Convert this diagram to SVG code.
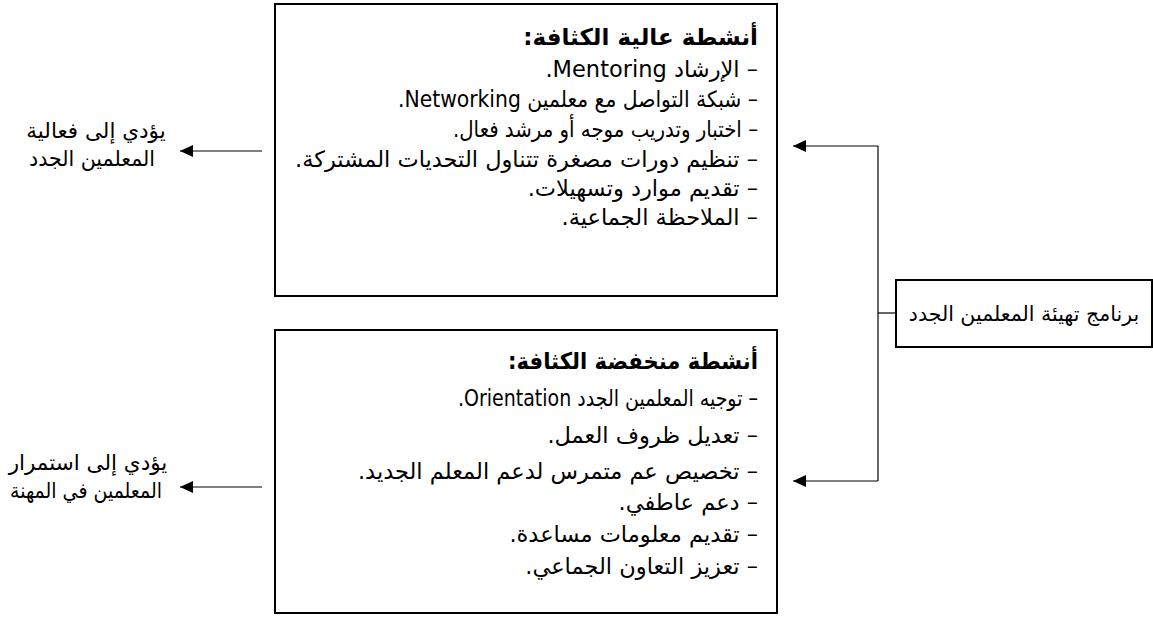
<svg xmlns="http://www.w3.org/2000/svg" width="1153" height="626" viewBox="0 0 1153 626">
<defs>
<style>
.box{fill:#fff;stroke:#000;stroke-width:2}
.t{font-family:"DejaVu Sans",sans-serif;font-size:22.5px;fill:#000}
.r{direction:rtl;unicode-bidi:embed;text-anchor:start}
.c{text-anchor:middle}
.b{font-weight:bold;font-size:23px}
.s{font-size:21.5px}
.p{font-size:20.5px}
.ln{fill:none;stroke:#000;stroke-width:1.2}
</style>
<marker id="ah" viewBox="0 0 13 12" refX="13" refY="6" markerWidth="13" markerHeight="12" markerUnits="userSpaceOnUse" orient="auto">
<path d="M0,0 L13,6 L0,12 Z" fill="#000"/>
</marker>
</defs>
<rect width="1153" height="626" fill="#fff"/>
<g id="connectors">
<line class="ln" x1="262" y1="151" x2="180" y2="151" marker-end="url(#ah)"/>
<line class="ln" x1="262" y1="487" x2="180" y2="487" marker-end="url(#ah)"/>
<polyline class="ln" points="896,313 878,313"/>
<polyline class="ln" points="878,146 878,481"/>
<line class="ln" x1="878" y1="146" x2="793" y2="146" marker-end="url(#ah)"/>
<line class="ln" x1="878" y1="481" x2="793" y2="481" marker-end="url(#ah)"/>
</g>
<g id="high">
<rect class="box" x="275" y="4" width="502" height="292"/>
<text class="t r b" x="758" y="45">أنشطة عالية الكثافة:</text>
<text class="t r" x="758" y="77">– الإرشاد Mentoring.</text>
<text class="t r" x="758" y="107" textLength="360" lengthAdjust="spacingAndGlyphs">– شبكة التواصل مع معلمين Networking.</text>
<text class="t r" x="758" y="137" textLength="305" lengthAdjust="spacingAndGlyphs">– اختبار وتدريب موجه أو مرشد فعال.</text>
<text class="t r" x="758" y="167">– تنظيم دورات مصغرة تتناول التحديات المشتركة.</text>
<text class="t r" x="758" y="196">– تقديم موارد وتسهيلات.</text>
<text class="t r" x="758" y="225">– الملاحظة الجماعية.</text>
</g>
<g id="low">
<rect class="box" x="275" y="330" width="502" height="283"/>
<text class="t r b" x="758" y="369" textLength="250" lengthAdjust="spacingAndGlyphs">أنشطة منخفضة الكثافة:</text>
<text class="t r" x="758" y="406" textLength="300" lengthAdjust="spacingAndGlyphs">– توجيه المعلمين الجدد Orientation.</text>
<text class="t r" x="758" y="443">– تعديل ظروف العمل.</text>
<text class="t r" x="758" y="479">– تخصيص عم متمرس لدعم المعلم الجديد.</text>
<text class="t r" x="758" y="510">– دعم عاطفي.</text>
<text class="t r" x="758" y="542">– تقديم معلومات مساعدة.</text>
<text class="t r" x="758" y="574">– تعزيز التعاون الجماعي.</text>
</g>
<g id="program">
<rect class="box" x="896" y="280" width="256" height="67"/>
<text class="t p c" x="1024" y="321">برنامج تهيئة المعلمين الجدد</text>
</g>
<g id="effect">
<text class="t s c" x="96" y="138">يؤدي إلى فعالية</text>
<text class="t s c" x="92" y="166" textLength="126" lengthAdjust="spacingAndGlyphs">المعلمين الجدد</text>
</g>
<g id="retention">
<text class="t s c" x="88" y="470">يؤدي إلى استمرار</text>
<text class="t s c" x="86" y="498" textLength="152" lengthAdjust="spacingAndGlyphs">المعلمين في المهنة</text>
</g>
</svg>
